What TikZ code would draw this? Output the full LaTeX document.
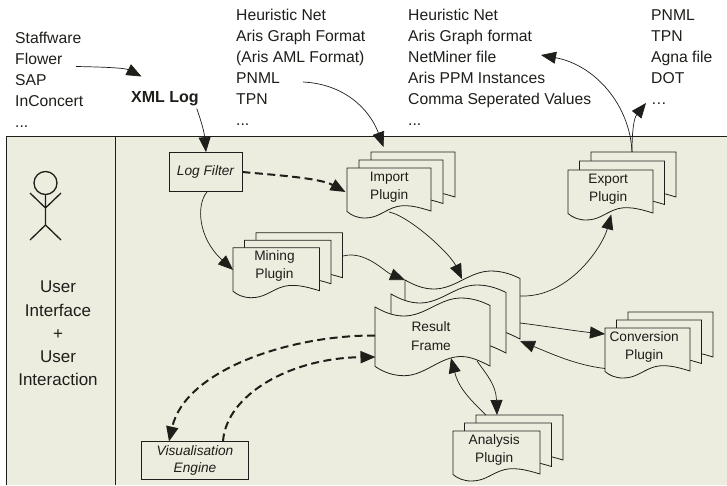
\documentclass[tikz,border=0pt]{standalone}
\usepackage{fontspec}
\setmainfont{Liberation Sans}
\usetikzlibrary{arrows.meta}
\definecolor{panel}{HTML}{ECECDF}
\definecolor{ink}{HTML}{1E1E1A}
\tikzset{
  x=1pt,y=-1pt,
  every node/.style={text=ink},
  link/.style={draw=ink,line width=.7pt,-{Triangle[length=15pt,width=12pt]}},
  plain/.style={draw=ink,line width=.7pt},
  dashlink/.style={draw=ink,line width=2pt,dash pattern=on 8pt off 4.5pt,-{Triangle[length=15pt,width=12pt]}},
  listing/.style={anchor=north west,align=left,inner sep=0pt,font=\fontsize{15.7}{21}\selectfont},
  toolbox/.style={draw=ink,fill=panel,line width=.8pt,inner sep=0pt,align=center,font=\fontsize{13.7}{17.5}\selectfont\itshape},
  page/.style={draw=ink,fill=panel,line width=.8pt},
  labelbox/.style={inner sep=0pt,align=center,font=\fontsize{13.7}{18.2}\selectfont},
  holder/.style={inner sep=0pt,minimum height=44pt,anchor=north west}
}
\newcommand{\docpage}[4]{% x, y, width, rise of right edge
  \begin{scope}[shift={(#1,#2)},xscale=#3/85]
  \path[page] (0,0) -- (85,0) -- (85,#4)
    .. controls (72,#4-4) and (58,#4-8) .. (46,#4-3)
    .. controls (36,#4+1) and (30,#4+7) .. (18,#4+7)
    .. controls (10,#4+7) and (4,#4+4) .. (0,#4+.5) -- cycle;
  \end{scope}
}
\newcommand{\plugin}[9]{% name, x, y, width, text, dx, dxback, dyback, dytext
  \docpage{#2+2*#7}{#3-2*#8}{#4}{45}
  \docpage{#2+#7}{#3-#8}{#4}{43.5}
  \docpage{#2}{#3}{#4}{43}
  \node[holder,minimum width=#4 pt] (#1) at (#2,#3) {};
  \node[labelbox] (#1text) at ([xshift=#6 pt,yshift=#9 pt]#1.center) {#5};
}
\newcommand{\framepage}[2]{% x, y
  \begin{scope}[shift={(#1,#2)}]
  \path[page] (0,0) .. controls (9,5) and (18,9) .. (29,9)
   .. controls (50,9) and (65,-9) .. (86,-9)
   .. controls (98,-9) and (108,-5) .. (115,-1.5)
   -- (115,59)
   .. controls (105,54) and (96,49.5) .. (86,49.5)
   .. controls (65,49.5) and (50,68.7) .. (29,68.7)
   .. controls (18,68.7) and (8,65) .. (0,59.3) -- cycle;
  \end{scope}
}
\begin{document}
\begin{tikzpicture}
\useasboundingbox (0,0) rectangle (727,485);
\fill[white] (0,0) rectangle (727,485);
% panel
\fill[panel] (6,136.5) rectangle (727,485);
\draw[ink,line width=.9pt] (727,136.5) -- (6,136.5) -- (6,485);
\draw[ink,line width=.9pt] (115,136.5) -- (115,485);
% lists
\node[listing] (sources) at (15,31.5) {Staffware\\Flower\\SAP\\InConcert\\...};
\node[listing] (imports) at (236,9) {Heuristic Net\\Aris Graph Format\\(Aris AML Format)\\PNML\\TPN\\...};
\node[listing] (exportsa) at (408,9) {Heuristic Net\\Aris Graph format\\NetMiner file\\Aris PPM Instances\\Comma Seperated Values\\...};
\node[listing] (exportsb) at (651,9) {PNML\\TPN\\Agna file\\DOT\\…};
\node[inner sep=0pt,font=\fontsize{16}{20}\selectfont\bfseries] (xml) at (165,99) {XML Log};
% user
\node[draw=ink,line width=1.3pt,circle,minimum size=23pt,inner sep=0pt] (head) at (45.5,183) {};
\coordinate (hip) at (45.5,225);
\coordinate (shoulder) at (45.5,208);
\coordinate (handl) at (30,193);
\coordinate (handr) at (61,193);
\coordinate (footl) at (30,240);
\coordinate (footr) at (61,240);
\draw[ink,line width=1.3pt] (head) -- (hip) (handl) -- (shoulder) -- (handr) (footl) -- (hip) -- (footr);
\node[inner sep=0pt,align=center,font=\fontsize{17}{23.2}\selectfont] (ui) at (58,333.5) {User\\Interface\\+\\User\\Interaction};
% boxes
\node[toolbox,minimum width=73pt,minimum height=39pt] (filter) at (205.5,172) {Log Filter};
\node[toolbox,minimum width=107pt,minimum height=37.5pt] (vis) at (195,460.5) {Visualisation\\Engine};
% plugins
\plugin{import}{347}{168}{84}{Import\\Plugin}{0}{12}{8}{3}
\plugin{export}{568}{170}{85}{Export\\Plugin}{-2.5}{11.5}{9}{3}
\plugin{mining}{233}{247.7}{86.5}{Mining\\Plugin}{-2}{11.5}{7.5}{4}
\plugin{conv}{605}{328}{85}{Conversion\\Plugin}{-3.5}{11.5}{8}{3}
\plugin{analysis}{453}{431}{87}{Analysis\\Plugin}{-2.5}{11.5}{8}{3}
% result
\framepage{405}{280}
\framepage{391}{294}
\framepage{375}{307}
\node[inner sep=0pt,minimum width=115pt,minimum height=59pt,anchor=north west] (result) at (375,307) {};
\node[labelbox] (resulttext) at (431,336) {Result\\Frame};
\coordinate (resultb) at (405,280);
% connectors
\coordinate (flowerend) at (76,66.5);
\coordinate (xmltip) at (141.5,76.5);
\draw[link] (flowerend) .. controls (105,67) and (125,68) .. (xmltip);
\coordinate (xmlout) at (196.7,108.5);
\draw[link] (xmlout) .. controls (200,118) and (204,130) .. ([xshift=.5pt]filter.north);
\coordinate (pnml) at (303,82);
\coordinate (importtip) at (383.5,147);
\draw[link] (pnml) .. controls (345,84) and (370,110) .. (importtip);
\coordinate (importleft) at (345.5,192);
\draw[dashlink] (filter.east) .. controls (275,175) and (320,178) .. (importleft);
\draw[link] ([xshift=1.5pt]filter.south) .. controls (196,205) and (198,238) .. (mining.west);
\coordinate (miningout) at (343,256);
\draw[link] (miningout) .. controls (365,250) and (385,272) .. (resultb);
\coordinate (importout) at (389,212);
\coordinate (resultbtop) at (462,279);
\coordinate (importmid) at (436,243);
\draw[plain] (importout) .. controls (400,214) and (420,228) .. (importmid);
\draw[link] (importmid) .. controls (448,254) and (454,262) .. (resultbtop);
\coordinate (resultr) at (520,296);
\draw[link] (resultr) .. controls (570,298) and (603,245) .. ([xshift=.5pt]export.south);
\coordinate (exporttop) at (632,152);
\coordinate (netminer) at (541,55);
\coordinate (dotsb) at (646,103);
\draw[link] (exporttop) .. controls (630,105) and (595,65) .. (netminer);
\draw[link] (exporttop) .. controls (632,130) and (634,118) .. (dotsb);
\coordinate (resultc) at (520,323);
\coordinate (convtip) at (605,334);
\draw[link] (resultc) .. controls (545,326) and (575,331) .. (convtip);
\coordinate (convout) at (605,368.5);
\coordinate (resultd) at (520,341);
\draw[link] (convout) .. controls (575,365) and (550,353) .. (resultd);
\coordinate (resulte) at (477,361);
\coordinate (analysistip) at (497,415);
\draw[link] (resulte) .. controls (487,375) and (496,385) .. (analysistip);
\coordinate (analysisout) at (486,415);
\coordinate (resultf) at (451,358);
\draw[link] (analysisout) .. controls (465,395) and (458,385) .. (resultf);
\coordinate (resultg) at (375,335.5);
\coordinate (vistip) at (169,441.5);
\draw[dashlink] (resultg) .. controls (290,335) and (185,370) .. (vistip);
\coordinate (visout) at (223,441.5);
\coordinate (resulth) at (375.5,357);
\draw[dashlink] (visout) .. controls (226,395) and (290,358) .. (resulth);
\end{tikzpicture}
\end{document}
